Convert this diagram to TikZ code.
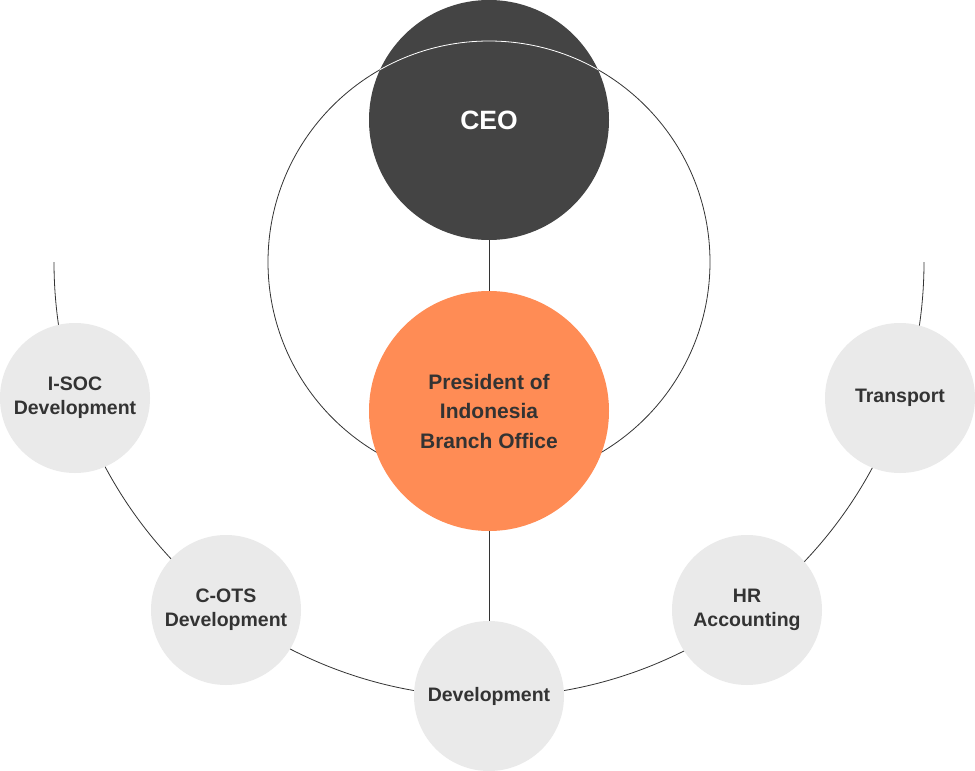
\documentclass[tikz,border=0pt]{standalone}
\usepackage{fontspec}
\setmainfont{Liberation Sans}
\definecolor{ceogray}{HTML}{444444}
\definecolor{presorange}{HTML}{FF8C55}
\definecolor{unitgray}{HTML}{EAEAEA}
\definecolor{linegray}{HTML}{333333}
\definecolor{textdark}{HTML}{333333}
\begin{document}
\begin{tikzpicture}[x=1pt,y=-1pt,
  thinline/.style={draw=linegray, line width=0.8pt},
  bigcirc/.style={circle, minimum size=240pt, inner sep=0pt, align=center},
  unit/.style={circle, fill=unitgray, minimum size=150pt, inner sep=0pt, align=center,
    text=textdark, font=\fontsize{19.5}{24.3}\selectfont\bfseries}]
\useasboundingbox (0,0) rectangle (975,771);
\fill[white] (0,0) rectangle (975,771);
% decorative orbit and outer arc
\draw[thinline] (489,262) circle[radius=221];
\begin{scope}
  \clip (0,262) rectangle (975,771);
  \draw[thinline] (489,262) circle[radius=435];
\end{scope}
% CEO
\node[bigcirc, fill=ceogray, text=white, font=\fontsize{26.5}{30}\selectfont\bfseries] (ceo) at (489,120) {CEO};
\begin{scope}
  \clip (489,120) circle[radius=120];
  \draw[white, line width=0.8pt] (489,262) circle[radius=221];
\end{scope}
% President
\node[bigcirc, fill=presorange, text=textdark, font=\fontsize{21}{29.5}\selectfont\bfseries] (pres) at (489,411) {President of\\Indonesia\\Branch Office};
% units
\node[unit] (isoc) at (75,398) {I-SOC\\Development};
\node[unit] (cots) at (226,610) {C-OTS\\Development};
\node[unit] (dev) at (489,696) {Development};
\node[unit] (hr) at (747,610) {HR\\Accounting};
\node[unit] (trans) at (900,398) {Transport};
% connectors
\draw[thinline] (ceo) -- (pres);
\draw[thinline] (pres) -- (dev);
\end{tikzpicture}
\end{document}
